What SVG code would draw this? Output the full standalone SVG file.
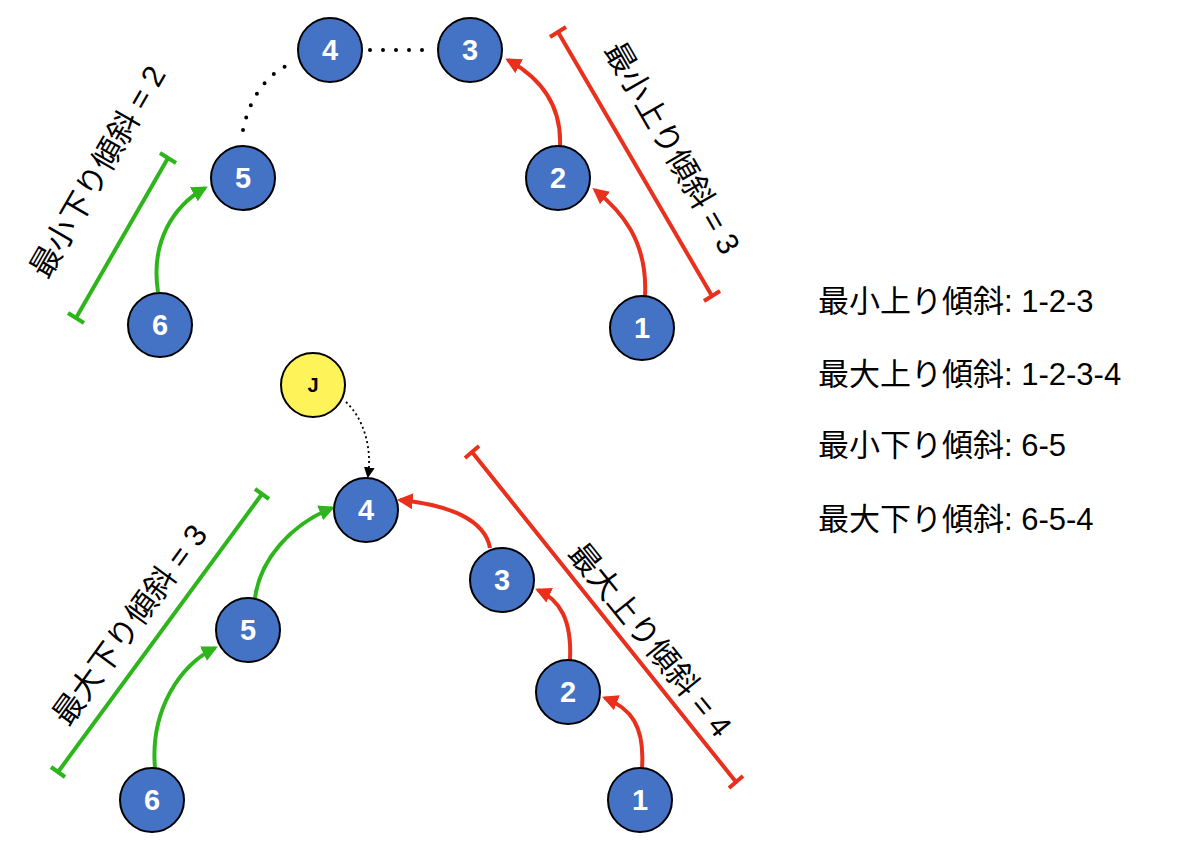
<svg xmlns="http://www.w3.org/2000/svg" width="1200" height="841" viewBox="0 0 1200 841">
<style>
.n circle{fill:#4472C4;stroke:#000;stroke-width:2}
.n text{fill:#fff;font:bold 29px "Liberation Sans",Arial,sans-serif;text-anchor:middle;dominant-baseline:central}
.r{stroke:#E8301C;stroke-width:4;fill:none}
.g{stroke:#2DB51B;stroke-width:4;fill:none}
.lab{font:31px "Liberation Sans","Noto Sans CJK JP",sans-serif;fill:#000;text-anchor:middle;dominant-baseline:central}
.leg{font:31px "Liberation Sans","Noto Sans CJK JP",sans-serif;fill:#000}
</style>
<defs>
<marker id="ar" viewBox="0 0 10 10" refX="8" refY="5" markerWidth="4" markerHeight="4" orient="auto"><path d="M0,0L10,5L0,10z" fill="#E8301C"/></marker>
<marker id="ag" viewBox="0 0 10 10" refX="8" refY="5" markerWidth="4" markerHeight="4" orient="auto"><path d="M0,0L10,5L0,10z" fill="#2DB51B"/></marker>
<marker id="ak" viewBox="0 0 10 10" refX="8" refY="5" markerWidth="6" markerHeight="6" orient="auto"><path d="M0,0L10,5L0,10z" fill="#000"/></marker>
</defs>
<g id="connectors">
<path class="r" d="M645,296 C648,240 620,210 595,190" marker-end="url(#ar)"/>
<path class="r" d="M560,146 C562,100 535,75 508,60" marker-end="url(#ar)"/>
<path class="g" d="M158,292 C150,240 175,205 205,188" marker-end="url(#ag)"/>
<path d="M243,130 C250,95 270,70 296,62" stroke="#000" stroke-width="4" stroke-dasharray="0 13" stroke-linecap="round" fill="none"/>
<path d="M370,50 L432,50" stroke="#000" stroke-width="4" stroke-dasharray="0 13" stroke-linecap="round" fill="none"/>
<path class="r" d="M642,768 C645,725 630,708 605,698" marker-end="url(#ar)"/>
<path class="r" d="M570,660 C572,620 560,600 538,590" marker-end="url(#ar)"/>
<path class="r" d="M490,548 C485,520 450,505 400,500" marker-end="url(#ar)"/>
<path class="g" d="M155,768 C150,710 180,665 215,648" marker-end="url(#ag)"/>
<path class="g" d="M255,598 C260,560 290,525 332,508" marker-end="url(#ag)"/>
<path d="M346,402 C365,420 372,450 368,476" stroke="#000" stroke-width="1.8" stroke-dasharray="2 3" fill="none" marker-end="url(#ak)"/>
<path class="r" d="M558,32 L712,296 M550,37 L566,27 M704,301 L720,291"/>
<path class="g" d="M168,158 L76,318 M160,153 L176,163 M68,313 L84,323"/>
<path class="r" d="M472,452 L736,782 M465,458 L479,446 M729,788 L743,776"/>
<path class="g" d="M262,494 L58,772 M255,489 L269,499 M51,767 L65,777"/>
</g>
<text class="lab" transform="translate(672,148) rotate(60)">最小上り傾斜 = 3</text>
<text class="lab" transform="translate(98,172) rotate(-60)">最小下り傾斜 = 2</text>
<text class="lab" transform="translate(650,640) rotate(51)">最大上り傾斜 = 4</text>
<text class="lab" transform="translate(130,625) rotate(-54)">最大下り傾斜 = 3</text>
<g id="t4" class="n"><circle cx="330" cy="50" r="32"/><text x="330" y="50">4</text></g>
<g id="t3" class="n"><circle cx="470" cy="50" r="32"/><text x="470" y="50">3</text></g>
<g id="t5" class="n"><circle cx="243" cy="178" r="32"/><text x="243" y="178">5</text></g>
<g id="t2" class="n"><circle cx="558" cy="178" r="32"/><text x="558" y="178">2</text></g>
<g id="t6" class="n"><circle cx="160" cy="325" r="32"/><text x="160" y="325">6</text></g>
<g id="t1" class="n"><circle cx="642" cy="328" r="32"/><text x="642" y="328">1</text></g>
<g id="J"><circle cx="313" cy="385" r="32" fill="#FFF35A" stroke="#000" stroke-width="2"/><text x="313" y="385" font-family="Liberation Sans,Arial,sans-serif" font-weight="bold" font-size="20" text-anchor="middle" dominant-baseline="central">J</text></g>
<g id="b4" class="n"><circle cx="366" cy="510" r="32"/><text x="366" y="510">4</text></g>
<g id="b3" class="n"><circle cx="502" cy="580" r="32"/><text x="502" y="580">3</text></g>
<g id="b5" class="n"><circle cx="248" cy="630" r="32"/><text x="248" y="630">5</text></g>
<g id="b2" class="n"><circle cx="568" cy="692" r="32"/><text x="568" y="692">2</text></g>
<g id="b6" class="n"><circle cx="152" cy="800" r="32"/><text x="152" y="800">6</text></g>
<g id="b1" class="n"><circle cx="640" cy="800" r="32"/><text x="640" y="800">1</text></g>
<g id="legend">
<text class="leg" x="818" y="312">最小上り傾斜: 1-2-3</text>
<text class="leg" x="818" y="385">最大上り傾斜: 1-2-3-4</text>
<text class="leg" x="818" y="456">最小下り傾斜: 6-5</text>
<text class="leg" x="818" y="530">最大下り傾斜: 6-5-4</text>
</g>
</svg>
